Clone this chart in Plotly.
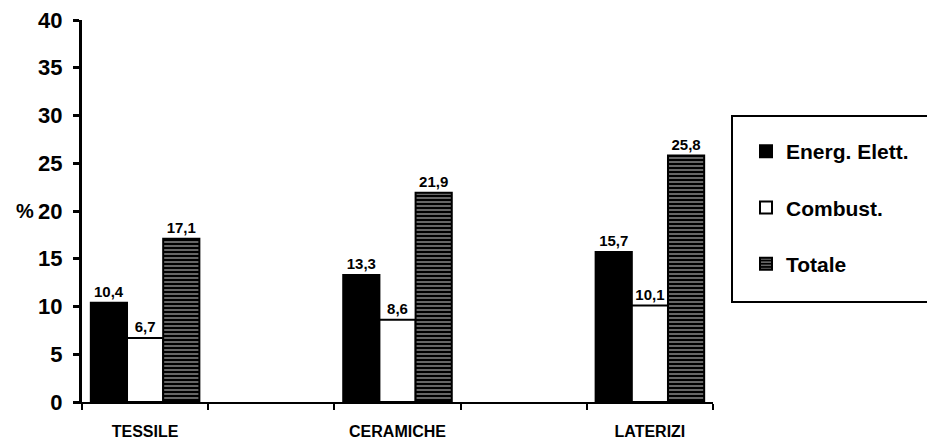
import plotly.graph_objects as go

categories = ["TESSILE", "CERAMICHE", "LATERIZI"]
energ_elett = [10.4, 13.3, 15.7]
combust = [6.7, 8.6, 10.1]
totale = [17.1, 21.9, 25.8]
series_names = ["Energ. Elett.", "Combust.", "Totale"]
y_ticks = [0, 5, 10, 15, 20, 25, 30, 35, 40]

# categories sit in every other slot (empty slots between them)
xpos = [2 * i for i in range(len(categories))]
boundaries = [p - 0.5 for p in range(0, 2 * len(categories))] + [2 * len(categories) - 1.5]

FONT = "Liberation Sans, Arial, Helvetica, sans-serif"

fig = go.Figure()
fig.add_trace(go.Bar(
    x=xpos, y=energ_elett, name=series_names[0], legendgroup="a",
    marker=dict(color="black", line=dict(color="black", width=2)),
    texttemplate="%{y:.1f}", textposition="outside",
))
fig.add_trace(go.Bar(
    x=xpos, y=combust, name=series_names[1], legendgroup="b",
    marker=dict(color="white", line=dict(color="black", width=2)),
    texttemplate="%{y:.1f}", textposition="outside",
))
fig.add_trace(go.Bar(
    x=xpos, y=totale, name=series_names[2], legendgroup="c",
    marker=dict(color="black", line=dict(color="black", width=2),
                pattern=dict(shape="-", fgcolor="white", size=4, solidity=0.4,
                             fillmode="overlay")),
    texttemplate="%{y:.1f}", textposition="outside",
))
fig.update_traces(textfont=dict(family=FONT, size=15, color="black", weight="bold"),
                  cliponaxis=False)

L, R, T, B = 82, 214, 20, 40
W, H = 927, 442
pw, ph = W - L - R, H - T - B

# legend frame (its right side runs off the page, as in the original)
fx0 = (732 - L) / pw
fx1 = (945 - L) / pw
fy0 = (H - B - 302) / ph
fy1 = (H - B - 116) / ph
frame_path = f"M {fx1},{fy0} L {fx0},{fy0} L {fx0},{fy1} L {fx1},{fy1}"

fig.update_layout(
    width=W, height=H,
    margin=dict(l=L, r=R, t=T, b=B, autoexpand=False),
    paper_bgcolor="white", plot_bgcolor="white",
    separators=",.",
    barmode="group", bargap=0.57, bargroupgap=0,
    font=dict(family=FONT, color="black"),
    showlegend=True,
    legend=dict(
        x=(746 - L) / pw, xanchor="left",
        y=(H - B - 131) / ph, yanchor="top",
        font=dict(family=FONT, size=21, color="black", weight="bold"),
        bgcolor="rgba(0,0,0,0)", borderwidth=0,
        traceorder="grouped", tracegroupgap=26,
    ),
    xaxis=dict(
        range=[-0.5, 2 * len(categories) - 1.5],
        tickmode="array", tickvals=xpos, ticktext=categories,
        ticks="", ticklabelstandoff=14,
        tickfont=dict(family=FONT, size=16, color="black", weight="bold"),
        showline=True, linecolor="black", linewidth=2,
        showgrid=False, zeroline=False,
        minor=dict(tickmode="array", tickvals=boundaries,
                   ticks="outside", ticklen=6, tickwidth=2, tickcolor="black"),
    ),
    yaxis=dict(
        range=[0, 40], tickmode="array", tickvals=y_ticks,
        ticks="outside", ticklen=6, tickwidth=3, tickcolor="black",
        ticklabelstandoff=6,
        tickfont=dict(family=FONT, size=22, color="black", weight="bold"),
        showline=True, linecolor="black", linewidth=3,
        showgrid=False, zeroline=False,
    ),
    shapes=[dict(
        type="path", xref="paper", yref="paper", path=frame_path,
        line=dict(color="black", width=2),
    )],
    annotations=[dict(
        text="%", xref="paper", yref="y", x=(36 - L) / pw, y=20,
        xanchor="right", yanchor="middle", showarrow=False,
        font=dict(family=FONT, size=20, color="black", weight="bold"),
    )],
)

fig.write_html("out.html", config={"displayModeBar": False},
               post_script="document.body.style.margin='0px';")
